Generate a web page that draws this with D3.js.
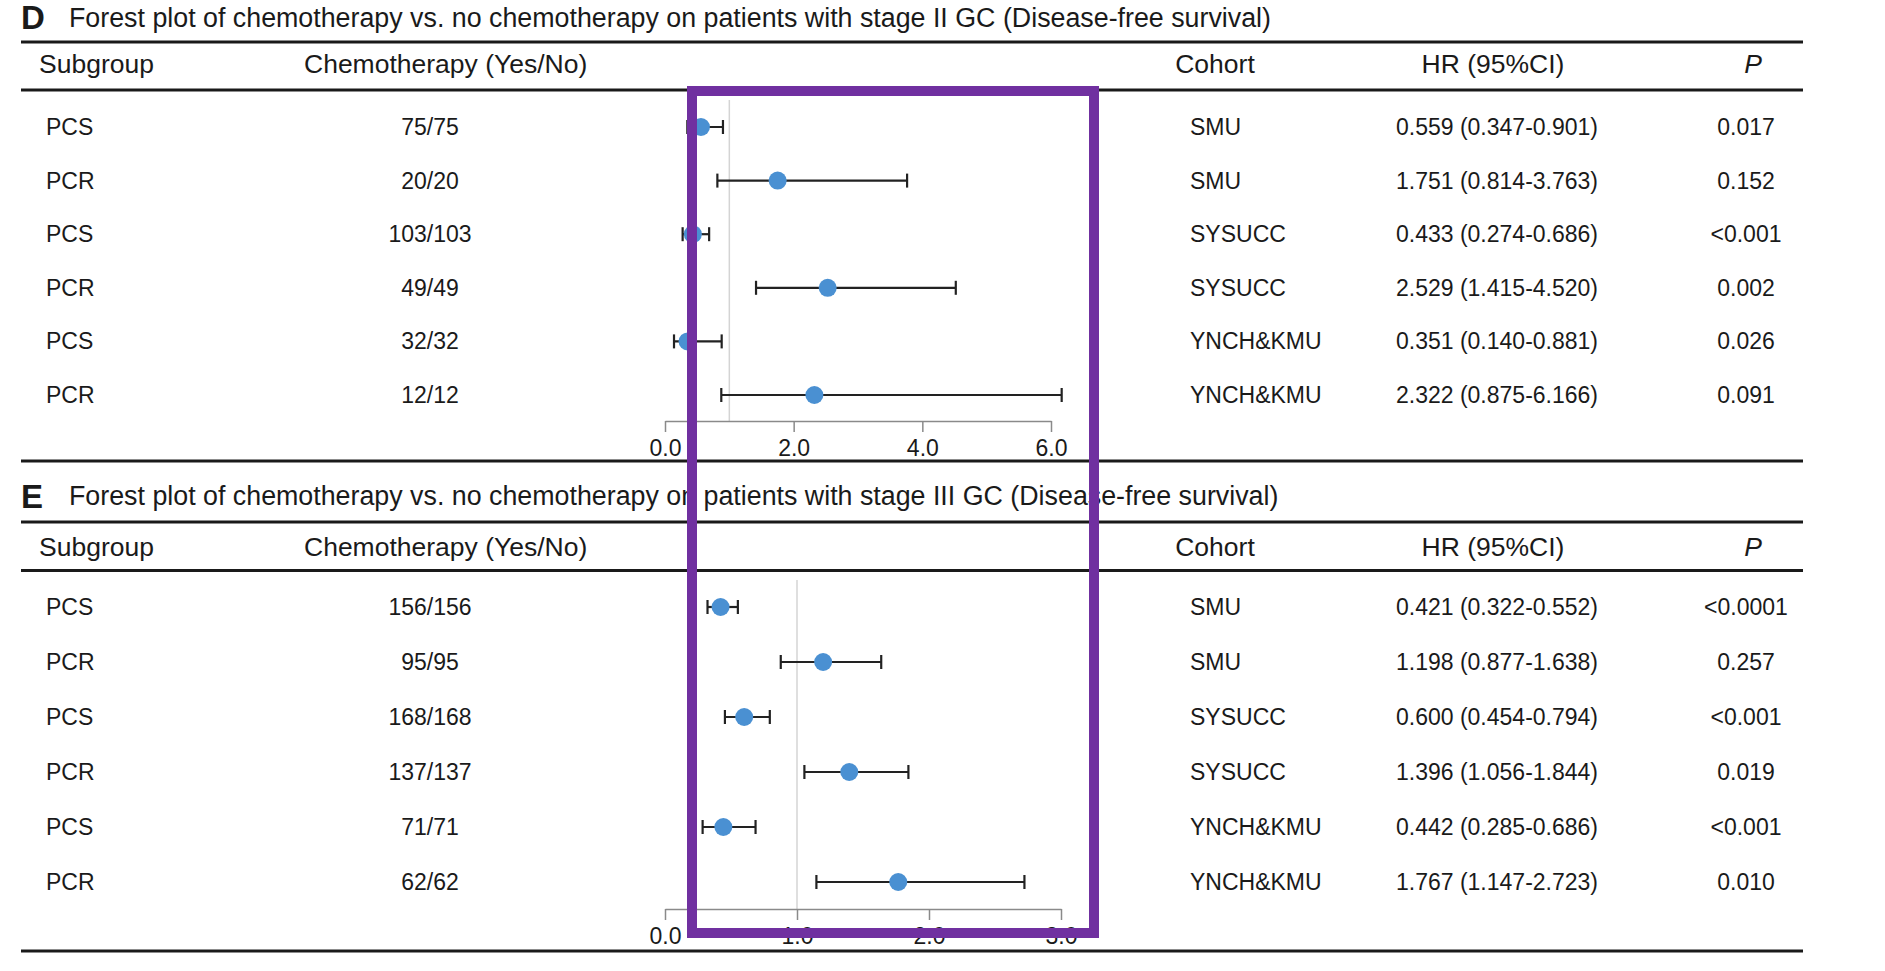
<!DOCTYPE html>
<html>
<head>
<meta charset="utf-8">
<script src="https://cdn.jsdelivr.net/npm/d3@7"></script>
<style>
  body { margin: 0; background: #fff; }
  svg text { font-family: "Liberation Sans", Arial, Helvetica, sans-serif; fill: #1a1a1a; }
</style>
</head>
<body>
<svg id="chart" width="1885" height="971"></svg>
<script>
var titleD = 'Forest plot of chemotherapy vs. no chemotherapy on patients with stage II GC (Disease-free survival)';
var titleE = 'Forest plot of chemotherapy vs. no chemotherapy on patients with stage III GC (Disease-free survival)';
var headers = ['Subgroup', 'Chemotherapy (Yes/No)', 'Cohort', 'HR (95%CI)', 'P'];

var subgroups = ['PCS', 'PCR', 'PCS', 'PCR', 'PCS', 'PCR'];
var cohorts = ['SMU', 'SMU', 'SYSUCC', 'SYSUCC', 'YNCH&KMU', 'YNCH&KMU'];

// stage II
var chemoD = ['75/75', '20/20', '103/103', '49/49', '32/32', '12/12'];
var hrD = [0.559, 1.751, 0.433, 2.529, 0.351, 2.322];
var lowD = [0.347, 0.814, 0.274, 1.415, 0.140, 0.875];
var highD = [0.901, 3.763, 0.686, 4.520, 0.881, 6.166];
var pD = ['0.017', '0.152', '<0.001', '0.002', '0.026', '0.091'];
var ticksD = [0, 2, 4, 6];

// stage III
var chemoE = ['156/156', '95/95', '168/168', '137/137', '71/71', '62/62'];
var hrE = [0.421, 1.198, 0.600, 1.396, 0.442, 1.767];
var lowE = [0.322, 0.877, 0.454, 1.056, 0.285, 1.147];
var highE = [0.552, 1.638, 0.794, 1.844, 0.686, 2.723];
var pE = ['<0.0001', '0.257', '<0.001', '0.019', '<0.001', '0.010'];
var ticksE = [0, 1, 2, 3];

(function(window, undefined) {
  'use strict';

  var svg = d3.select('#chart');
  var fmt = d3.format('.3f');
  var ink = '#1a1a1a';

  var hline = function(y) {
    svg.append('line')
      .attr('x1', 21).attr('x2', 1803)
      .attr('y1', y).attr('y2', y)
      .attr('stroke', ink)
      .attr('stroke-width', 3);
  };

  var drawPanel = function(p) {
    var rows = subgroups.map(function(s, i) {
      return {sub: s, chemo: p.chemo[i], cohort: cohorts[i], hr: p.hr[i], lo: p.lo[i], hi: p.hi[i], pv: p.pv[i]};
    });

    var x = d3.scaleLinear().domain([0, d3.max(p.ticks)]).range([665, p.xEnd]);
    var y = d3.scalePoint().domain(d3.range(rows.length)).range([p.rowTop, p.rowBottom]);

    svg.append('text')
      .attr('x', 21).attr('y', p.letterY)
      .style('font-size', '33px').style('font-weight', 'bold')
      .text(p.letter);
    svg.append('text')
      .attr('x', 69).attr('y', p.titleY)
      .style('font-size', '26.8px')
      .text(p.title);

    hline(p.lineA);
    hline(p.lineB);
    hline(p.bottom);

    var hx = [39, 304, 1215, 1493, 1753];
    var ha = ['start', 'start', 'middle', 'middle', 'middle'];
    svg.append('g').selectAll('text')
      .data(headers)
      .enter()
      .append('text')
      .attr('x', function(d, i) { return hx[i]; })
      .attr('y', p.headerY)
      .attr('text-anchor', function(d, i) { return ha[i]; })
      .style('font-size', '26.5px')
      .style('font-style', function(d) { return d === 'P' ? 'italic' : 'normal'; })
      .text(function(d) { return d; });

    var cols = [
      {x: 46, anchor: 'start', f: function(d) { return d.sub; }},
      {x: 430, anchor: 'middle', f: function(d) { return d.chemo; }},
      {x: 1190, anchor: 'start', f: function(d) { return d.cohort; }},
      {x: 1497, anchor: 'middle', f: function(d) { return fmt(d.hr) + ' (' + fmt(d.lo) + '-' + fmt(d.hi) + ')'; }},
      {x: 1746, anchor: 'middle', f: function(d) { return d.pv; }}
    ];
    cols.forEach(function(c) {
      svg.append('g').selectAll('text')
        .data(rows)
        .enter()
        .append('text')
        .attr('x', c.x)
        .attr('y', function(d, i) { return y(i); })
        .attr('dy', '0.35em')
        .attr('text-anchor', c.anchor)
        .style('font-size', '23px')
        .text(c.f);
    });

    // reference line at HR = 1
    svg.append('line')
      .attr('x1', x(1)).attr('x2', x(1))
      .attr('y1', p.refTop).attr('y2', p.axisY)
      .attr('stroke', '#d4d4d4')
      .attr('stroke-width', 1.5);

    var axis = svg.append('g')
      .attr('transform', 'translate(0,' + p.axisY + ')')
      .call(d3.axisBottom(x).tickValues(p.ticks).tickFormat(d3.format('.1f'))
        .tickSize(11).tickSizeOuter(0).tickPadding(8));
    axis.select('.domain').attr('stroke', '#8a8a8a').attr('stroke-width', 1.5);
    axis.selectAll('.tick line').attr('stroke', '#8a8a8a').attr('stroke-width', 1.5);
    axis.selectAll('.tick text')
      .attr('fill', ink)
      .style('font-size', '23px')
      .style('font-family', '"Liberation Sans", Arial, sans-serif');

    var bars = svg.append('g')
      .selectAll('g')
      .data(rows)
      .enter()
      .append('g')
      .attr('transform', function(d, i) { return 'translate(0,' + y(i) + ')'; });

    bars.append('line')
      .attr('x1', function(d) { return x(d.lo); })
      .attr('x2', function(d) { return x(d.hi); })
      .attr('stroke', '#222').attr('stroke-width', 2.2);
    bars.append('line')
      .attr('x1', function(d) { return x(d.lo); })
      .attr('x2', function(d) { return x(d.lo); })
      .attr('y1', -7).attr('y2', 7)
      .attr('stroke', '#222').attr('stroke-width', 2.2);
    bars.append('line')
      .attr('x1', function(d) { return x(d.hi); })
      .attr('x2', function(d) { return x(d.hi); })
      .attr('y1', -7).attr('y2', 7)
      .attr('stroke', '#222').attr('stroke-width', 2.2);
    bars.append('circle')
      .attr('cx', function(d) { return x(d.hr); })
      .attr('r', 9)
      .attr('fill', '#4a90d2');
  };

  drawPanel({
    letter: 'D', title: titleD, chemo: chemoD, hr: hrD, lo: lowD, hi: highD, pv: pD, ticks: ticksD,
    letterY: 29, titleY: 27, lineA: 42, headerY: 73, lineB: 90,
    rowTop: 127, rowBottom: 395, refTop: 100, axisY: 421, bottom: 461, xEnd: 1051
  });

  drawPanel({
    letter: 'E', title: titleE, chemo: chemoE, hr: hrE, lo: lowE, hi: highE, pv: pE, ticks: ticksE,
    letterY: 508, titleY: 505, lineA: 522, headerY: 556, lineB: 570.5,
    rowTop: 607, rowBottom: 882, refTop: 580, axisY: 909, bottom: 951, xEnd: 1061
  });

  // purple highlight frame drawn over both plots
  svg.append('rect')
    .attr('x', 692).attr('y', 91)
    .attr('width', 402).attr('height', 842)
    .attr('fill', 'none')
    .attr('stroke', '#7030a0')
    .attr('stroke-width', 10);

}(window));
</script>
</body>
</html>
